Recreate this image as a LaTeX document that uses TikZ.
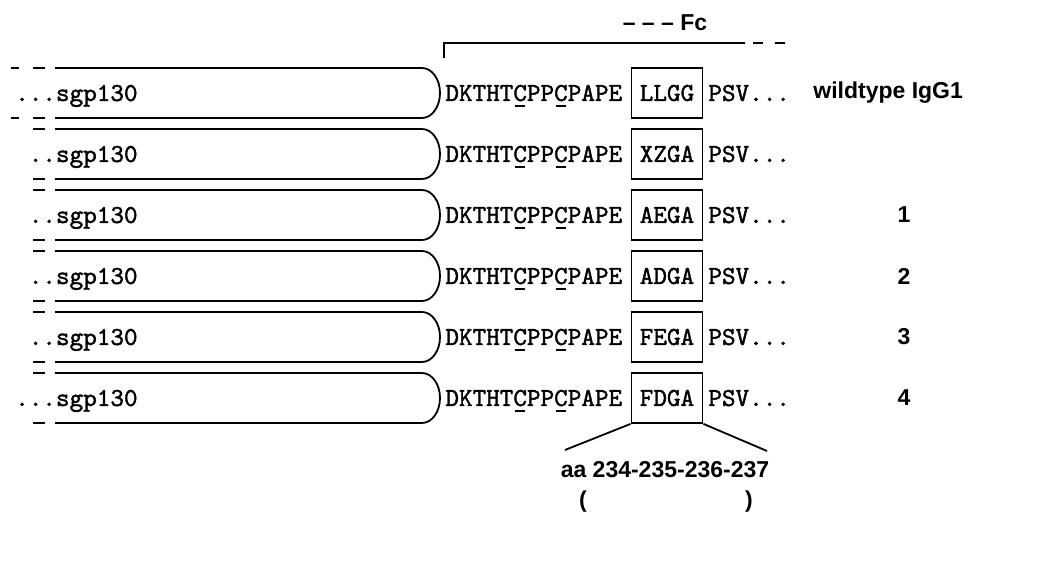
\documentclass[tikz,border=0pt]{standalone}
\usepackage{fontspec}
\newfontfamily\labfont{Liberation Sans}
\newfontfamily\seqfont[FakeBold=1.5]{lmmono10-regular.otf}
\usetikzlibrary{positioning, calc}

\newcommand{\dthree}{...}
\newcommand{\dtwo}{..}
\newcommand{\ulc}[1]{\makebox[0pt][l]{\hspace{0.8pt}\rule[-3pt]{5.2pt}{1pt}}#1}

\tikzset{
  seqtext/.style={font=\seqfont\fontsize{12.95}{15}\selectfont, inner sep=0pt},
  labtext/.style={font=\labfont\bfseries\fontsize{11.5}{13}\selectfont, inner sep=0pt},
  motifbox/.style={seqtext, draw, line width=0.9pt, minimum width=35.5pt, minimum height=25pt},
  chain/.style={line width=0.9pt}
}

\begin{document}
\begin{tikzpicture}[x=0.5pt, y=-0.5pt]
    % Frame
    \useasboundingbox (0,0) rectangle (1062,581);

    % Fc bracket
    \node[labtext] (fc) at (665,23) {\textendash\ \textendash\ \textendash\ Fc};
    \coordinate (fcA) at (444,58);
    \coordinate (fcB) at (444,43);
    \coordinate (fcC) at (745,43);
    \coordinate (fcD) at (787,43);
    \draw[chain] (fcA) -- (fcB) -- (fcC);
    \draw[chain, dash pattern=on 5pt off 6pt] (fcC) ++(8,0) -- (fcD);

    % Fusion rows
    \foreach \i/\pre/\motif in {1/\dthree/LLGG, 2/\dtwo/XZGA, 3/\dtwo/AEGA,
                                4/\dtwo/ADGA, 5/\dtwo/FEGA, 6/\dthree/FDGA} {
        \pgfmathsetmacro{\yc}{93+61*(\i-1)}
        \draw[chain] (55,\yc-25) -- (422,\yc-25)
            arc[start angle=-90, end angle=90, x radius=18, y radius=25] -- (55,\yc+25);
        \draw[chain] (33,\yc-25) -- (45,\yc-25) (33,\yc+25) -- (45,\yc+25);
        \node[seqtext, anchor=base east] (sgp\i) at (138,\yc+8) {\pre sgp130};
        \node[seqtext, anchor=base west] (seq\i) at (445,\yc+8) {DKTHT\ulc{C}PP\ulc{C}PAPE};
        \node[motifbox] (mot\i) at (667,\yc) {\motif};
        \node[seqtext, anchor=base west] (psv\i) at (708,\yc+8) {PSV...};
    }
    \draw[chain] (11,68) -- (19,68) (11,118) -- (19,118);

    % Labels
    \node[labtext, anchor=west] (wt) at (813,93) {wildtype IgG1};
    \node[labtext] (mut1) at (904,215) {1};
    \node[labtext] (mut2) at (904,276) {2};
    \node[labtext] (mut3) at (904,337) {3};
    \node[labtext] (mut4) at (904,398) {4};

    % Zoom on positions
    \coordinate (zl) at (565,450);
    \coordinate (zr) at (767,451);
    \draw[chain] (mot6.south west) -- (zl);
    \draw[chain] (mot6.south east) -- (zr);
    \node[labtext] (aa) at (665,470) {aa 234-235-236-237};
    \node[labtext] (lpar) at (583,502) {(};
    \node[labtext] (rpar) at (749,502) {)};
\end{tikzpicture}
\end{document}
